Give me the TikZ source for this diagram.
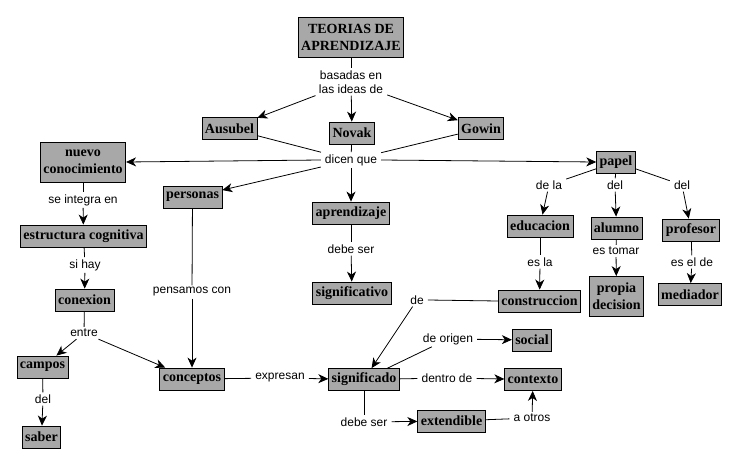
\documentclass[tikz,border=0pt]{standalone}
\usepackage{fontspec}
\setmainfont{Liberation Serif}
\newfontfamily\labfont{Liberation Sans}
\usetikzlibrary{arrows.meta}
\definecolor{boxgray}{RGB}{168,168,168}
\begin{document}
\begin{tikzpicture}[x=1pt,y=-1pt,
  cbox/.style={draw, fill=boxgray, font=\bfseries\fontsize{14}{17}\selectfont, inner xsep=3pt, inner ysep=2pt, minimum height=22pt, align=center, line width=0.8pt},
  lab/.style={font=\labfont\fontsize{12}{14}\selectfont, inner xsep=4pt, inner ysep=2pt, align=center},
  link/.style={line width=0.8pt},
  arr/.style={link, -{Stealth[length=10pt,width=9pt,inset=3pt]}}]
\useasboundingbox (0,0) rectangle (743,468);
% concept boxes
\node[cbox, minimum width=100pt, minimum height=40pt] (teo) at (351,37) {TEORIAS DE\\APRENDIZAJE};
\node[cbox] (aus) at (229.5,128.5) {Ausubel};
\node[cbox] (nov) at (352,133) {Novak};
\node[cbox] (gow) at (481,128.5) {Gowin};
\node[cbox, minimum height=40pt] (nuevo) at (83,162) {nuevo\\conocimiento};
\node[cbox] (pers) at (192.5,197) {personas};
\node[cbox] (estr) at (83.5,236) {estructura cognitiva};
\node[cbox] (conx) at (84.5,300) {conexion};
\node[cbox] (apr) at (351,213) {aprendizaje};
\node[cbox] (sigv) at (352,293) {significativo};
\node[cbox] (pap) at (616,162) {papel};
\node[cbox] (edu) at (540,226) {educacion};
\node[cbox] (alu) at (616.5,228) {alumno};
\node[cbox] (prof) at (691,230) {profesor};
\node[cbox] (cons) at (539.5,301) {construccion};
\node[cbox, minimum height=40pt] (prop) at (616.5,296.5) {propia\\decision};
\node[cbox] (med) at (690,294.5) {mediador};
\node[cbox] (soc) at (532,340) {social};
\node[cbox] (sig) at (364,379.5) {significado};
\node[cbox] (ctx) at (533,379.5) {contexto};
\node[cbox] (ext) at (451.5,421) {extendible};
\node[cbox] (camp) at (42.5,367) {campos};
\node[cbox] (sab) at (41.5,437) {saber};
\node[cbox] (conc) at (192,379) {conceptos};
% link labels
\node[lab] (bas) at (351,82) {basadas en\\las ideas de};
\node[lab] (dic) at (351,160) {dicen que};
\node[lab] (seint) at (83,200) {se integra en};
\node[lab] (sihay) at (85,265) {si hay};
\node[lab] (pens) at (192,292) {pensamos con};
\node[lab] (deb1) at (351,249) {debe ser};
\node[lab] (dela) at (549,185) {de la};
\node[lab] (del1) at (615,185) {del};
\node[lab] (del2) at (682,185) {del};
\node[lab] (esla) at (540,262) {es la};
\node[lab] (estom) at (616,251) {es tomar};
\node[lab] (esel) at (692,262) {es el de};
\node[lab] (de) at (417,300) {de};
\node[lab] (orig) at (448,339) {de origen};
\node[lab] (dentro) at (447,378) {dentro de};
\node[lab] (deb2) at (364,422) {debe ser};
\node[lab] (otros) at (532,418) {a otros};
\node[lab] (entre) at (84,333) {entre};
\node[lab] (del3) at (43,399) {del};
\node[lab] (expr) at (280,378) {expresan};
% connectors
\draw[link] (teo) -- (bas);
\draw[arr] (bas) -- (aus);
\draw[arr] (bas) -- (nov);
\draw[arr] (bas) -- (gow);
\draw[link] (aus) -- (dic);
\draw[link] (nov) -- (dic);
\draw[link] (gow) -- (dic);
\draw[arr] (dic.west) -- (nuevo.east);
\draw[arr] (dic.east) -- (pap.west);
\draw[arr] (dic) -- (pers);
\draw[arr] (dic) -- (apr);
\draw[link] (nuevo) -- (seint);
\draw[arr] (seint) -- (estr);
\draw[link] (estr) -- (sihay);
\draw[arr] (sihay) -- (conx);
\draw[link] (conx) -- (entre);
\draw[arr] (entre) -- (camp);
\draw[arr] (entre) -- (conc);
\draw[link] (camp) -- (del3);
\draw[arr] (del3) -- (sab);
\draw[link] (pers) -- (pens);
\draw[arr] (pens) -- (conc);
\draw[link] (apr) -- (deb1);
\draw[arr] (deb1) -- (sigv);
\draw[link] (pap) -- (dela);
\draw[arr] (dela) -- (edu);
\draw[link] (pap) -- (del1);
\draw[arr] (del1) -- (alu);
\draw[link] (pap) -- (del2);
\draw[arr] (del2) -- (prof);
\draw[link] (edu) -- (esla);
\draw[arr] (esla) -- (cons);
\draw[link] (alu) -- (estom);
\draw[arr] (estom) -- (prop);
\draw[link] (prof) -- (esel);
\draw[arr] (esel) -- (med);
\draw[link] (cons.west) -- (de.east);
\draw[arr] (de) -- (sig);
\draw[link] (conc) -- (expr);
\draw[arr] (expr) -- (sig);
\draw[link] (sig) -- (orig);
\draw[arr] (orig) -- (soc);
\draw[link] (sig) -- (dentro);
\draw[arr] (dentro) -- (ctx);
\draw[link] (sig) -- (deb2);
\draw[arr] (deb2) -- (ext);
\draw[link] (ext) -- (otros);
\draw[arr] (otros) -- (ctx);
\end{tikzpicture}
\end{document}
